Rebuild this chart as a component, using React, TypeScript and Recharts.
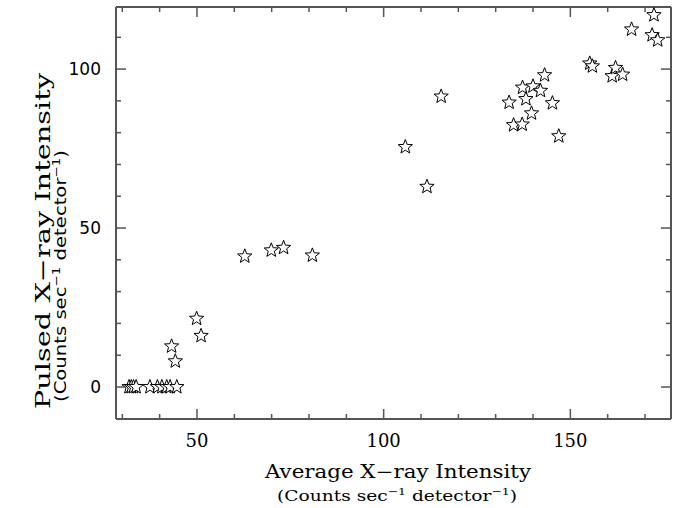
import React from 'react';
import { ScatterChart, Scatter, XAxis, YAxis } from 'recharts';

const avgIntensity = [
  31.8, 32.4, 33.0, 33.7, 37.4, 39.4, 40.6, 41.9, 42.8, 44.6,
  43.2, 44.2, 49.9, 51.1, 62.8, 69.9, 73.2, 80.9,
  105.8, 111.6, 115.4,
  133.6, 134.8, 137.1, 137.2, 138.1, 139.6, 140.0, 142.0, 143.1, 145.2, 146.9,
  155.2, 155.9, 161.2, 162.1, 164.0,
  166.4, 171.9, 172.4, 173.4,
];
const pulsedIntensity = [
  0, 0, 0, 0, 0, 0, 0, 0, 0, 0,
  12.8, 8.1, 21.5, 16.1, 41.1, 43.0, 43.8, 41.4,
  75.5, 63.0, 91.4,
  89.5, 82.4, 82.6, 94.2, 90.6, 86.1, 94.6, 93.2, 98.1, 89.3, 78.9,
  101.8, 100.9, 97.8, 100.4, 98.3,
  112.5, 110.7, 117.0, 109.1,
];
const xTicks = [30, 40, 50, 60, 70, 80, 90, 100, 110, 120, 130, 140, 150, 160, 170];
const yTicks = [0, 10, 20, 30, 40, 50, 60, 70, 80, 90, 100, 110];
const xDomain = [28.31, 176.96];
const yDomain = [-10.07, 119.54];

const points = avgIntensity.map((x, i) => ({ x, y: pulsedIntensity[i] }));

const FRAME = '#555555';
const SERIF = '"DejaVu Serif", "Liberation Serif", serif';
const SANS = '"DejaVu Sans", Arial, sans-serif';

const isMajor = (v: number) => v % 50 === 0;

function Star(props: any) {
  const { cx, cy } = props;
  if (cx == null || cy == null) return null;
  const pts: string[] = [];
  for (let k = 0; k < 10; k++) {
    const r = k % 2 === 0 ? 7.5 : 3.2;
    const a = -Math.PI / 2 + (k * Math.PI) / 5;
    pts.push(`${cx + r * Math.cos(a)},${cy + r * Math.sin(a)}`);
  }
  return <polygon points={pts.join(' ')} fill="#fff" stroke="#000" strokeWidth={1} />;
}

const Nothing = () => <g />;

function BottomTick(props: any) {
  const { x, y, payload } = props;
  const len = isMajor(payload.value) ? 10 : 5;
  return (
    <g>
      <line x1={x} y1={y} x2={x} y2={y - len} stroke={FRAME} strokeWidth={1.5} />
      {isMajor(payload.value) && (
        <text x={x} y={y + 28} textAnchor="middle" fontFamily={SERIF} fontSize={18} fill="#000">
          {payload.value}
        </text>
      )}
    </g>
  );
}

function TopTick(props: any) {
  const { x, y, payload } = props;
  const len = isMajor(payload.value) ? 10 : 5;
  return <line x1={x} y1={y} x2={x} y2={y + len} stroke={FRAME} strokeWidth={1.5} />;
}

function LeftTick(props: any) {
  const { x, y, payload } = props;
  const len = isMajor(payload.value) ? 10 : 5;
  return (
    <g>
      <line x1={x} y1={y} x2={x + len} y2={y} stroke={FRAME} strokeWidth={1.5} />
      {isMajor(payload.value) && (
        <text x={x - 15} y={y + 6} textAnchor="end" fontFamily={SANS} fontSize={17} fill="#000">
          {payload.value}
        </text>
      )}
    </g>
  );
}

function RightTick(props: any) {
  const { x, y, payload } = props;
  const len = isMajor(payload.value) ? 10 : 5;
  return <line x1={x} y1={y} x2={x - len} y2={y} stroke={FRAME} strokeWidth={1.5} />;
}

function XTitle() {
  return (
    <g>
      <text x={398} y={478} textAnchor="middle" fontFamily={SERIF} fontSize={18} fill="#000"
        textLength={266} lengthAdjust="spacingAndGlyphs">
        Average X−ray Intensity
      </text>
      <text x={277} y={501} textAnchor="start" fontFamily={SERIF} fontSize={15} fill="#000"
        textLength={240} lengthAdjust="spacingAndGlyphs">
        (Counts sec<tspan dy={-6} fontSize={10}>−1</tspan>
        <tspan dy={6}> detector</tspan>
        <tspan dy={-6} fontSize={10}>−1</tspan>
        <tspan dy={6}>)</tspan>
      </text>
    </g>
  );
}

function YTitle() {
  return (
    <g>
      <text transform="translate(50,241) rotate(-90)" textAnchor="middle" fontFamily={SERIF} fontSize={21}
        fill="#000" textLength={336} lengthAdjust="spacingAndGlyphs">
        Pulsed X−ray Intensity
      </text>
      <text transform="translate(66,402) rotate(-90)" textAnchor="start" fontFamily={SANS} fontSize={16} fill="#000"
        textLength={252} lengthAdjust="spacingAndGlyphs">
        (Counts sec<tspan dy={-6} fontSize={11}>−1</tspan>
        <tspan dy={6}> detector</tspan>
        <tspan dy={-6} fontSize={11}>−1</tspan>
        <tspan dy={6}>)</tspan>
      </text>
    </g>
  );
}

export default function App() {
  return (
    <div style={{ position: 'absolute', left: 0, top: 0, background: '#fff' }}>
      <ScatterChart width={682} height={508} margin={{ top: 6, right: 10, bottom: 0, left: 0 }}>
        <XAxis
          xAxisId="b"
          type="number"
          dataKey="x"
          orientation="bottom"
          domain={xDomain}
          allowDataOverflow
          ticks={xTicks}
          interval={0}
          height={89}
          tickSize={0}
          tickMargin={0}
          tickLine={false}
          axisLine={{ stroke: FRAME, strokeWidth: 2 }}
          tick={(p: any) => <BottomTick {...p} />}
          label={{ content: () => <XTitle /> }}
        />
        <XAxis
          xAxisId="t"
          type="number"
          dataKey="x"
          orientation="top"
          domain={xDomain}
          allowDataOverflow
          ticks={xTicks}
          interval={0}
          height={1}
          tickSize={0}
          tickMargin={0}
          tickLine={false}
          axisLine={{ stroke: FRAME, strokeWidth: 2 }}
          tick={(p: any) => <TopTick {...p} />}
        />
        <YAxis
          yAxisId="l"
          type="number"
          dataKey="y"
          orientation="left"
          domain={yDomain}
          allowDataOverflow
          ticks={yTicks}
          interval={0}
          width={116}
          tickSize={0}
          tickMargin={0}
          tickLine={false}
          axisLine={{ stroke: FRAME, strokeWidth: 2 }}
          tick={(p: any) => <LeftTick {...p} />}
          label={{ content: () => <YTitle /> }}
        />
        <YAxis
          yAxisId="r"
          type="number"
          dataKey="y"
          orientation="right"
          domain={yDomain}
          allowDataOverflow
          ticks={yTicks}
          interval={0}
          width={1}
          tickSize={0}
          tickMargin={0}
          tickLine={false}
          axisLine={{ stroke: FRAME, strokeWidth: 2 }}
          tick={(p: any) => <RightTick {...p} />}
        />
        {/* binds the top/right frame axes so they get drawn */}
        <Scatter data={points} xAxisId="t" yAxisId="r" shape={() => <Nothing />} isAnimationActive={false} />
        <Scatter data={points} xAxisId="b" yAxisId="l" shape={(p: any) => <Star {...p} />} isAnimationActive={false} />
      </ScatterChart>
    </div>
  );
}
